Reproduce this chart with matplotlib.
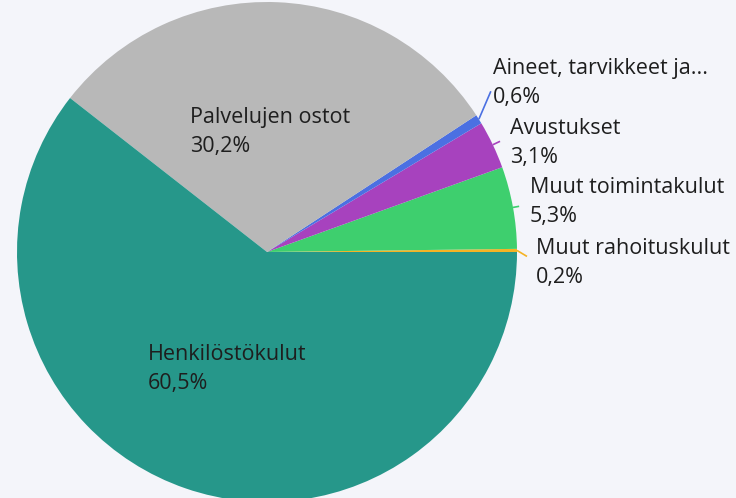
import numpy as np
import matplotlib.pyplot as plt

# Slices listed counter-clockwise starting from 3 o'clock
labels = ['Muut rahoituskulut', 'Muut toimintakulut', 'Avustukset',
          'Aineet, tarvikkeet ja...', 'Palvelujen ostot', 'Henkilöstökulut']
values = [0.2, 5.3, 3.1, 0.6, 30.2, 60.5]
pct_text = ['0,2%', '5,3%', '3,1%', '0,6%', '30,2%', '60,5%']
colors = ['#F5B324', '#3ECF6E', '#A742BE', '#4B70E2', '#B8B8B8', '#26978A']

bg = '#F4F5FA'
W, H = 736, 498
cx, cy, R = 267, H - 252, 250

fig = plt.figure(figsize=(W / 100, H / 100), dpi=100, facecolor=bg)
ax = fig.add_axes([0, 0, 1, 1])
ax.set_facecolor(bg)

wedges, _ = ax.pie(values, colors=colors, startangle=0, counterclock=True,
                   center=(cx, cy), radius=R, frame=True,
                   wedgeprops=dict(linewidth=0))
ax.set_xlim(0, W)
ax.set_ylim(0, H)
ax.set_aspect('equal')
ax.axis('off')

font = dict(family='Open Sans', fontsize=15.5, color='#1E1E1E')

# inside labels (left x, first-line y in image pixels)
inside = {4: (190, 117), 5: (148, 355)}
for i, (x, y) in inside.items():
    ax.text(x, H - y, labels[i], va='center', ha='left', **font)
    ax.text(x, H - y - 29, pct_text[i], va='center', ha='left', **font)

# outside labels: text position, leader end offset (pixels) or radius factor
outside = {3: ((493, 68), (12, 28), 1.0),
           2: ((510, 128), (0, 0), 1.032),
           1: ((530, 187), (0, 0), 1.025),
           0: ((536, 248), (10, -6), 1.0)}
for i, ((x, y), (ox, oy), rr) in outside.items():
    w = wedges[i]
    mid = np.deg2rad((w.theta1 + w.theta2) / 2)
    x0 = cx + R * np.cos(mid)
    y0 = cy + R * np.sin(mid)
    if ox or oy:
        x1, y1 = x0 + ox, y0 + oy
    else:
        x1, y1 = cx + R * rr * np.cos(mid), cy + R * rr * np.sin(mid)
    ax.plot([x0, x1], [y0, y1], color=colors[i], lw=1.2, solid_capstyle='butt')
    ax.text(x, H - y, labels[i], va='center', ha='left', **font)
    ax.text(x, H - y - 29, pct_text[i], va='center', ha='left', **font)

fig.savefig('out.png', dpi=100, facecolor=bg)
